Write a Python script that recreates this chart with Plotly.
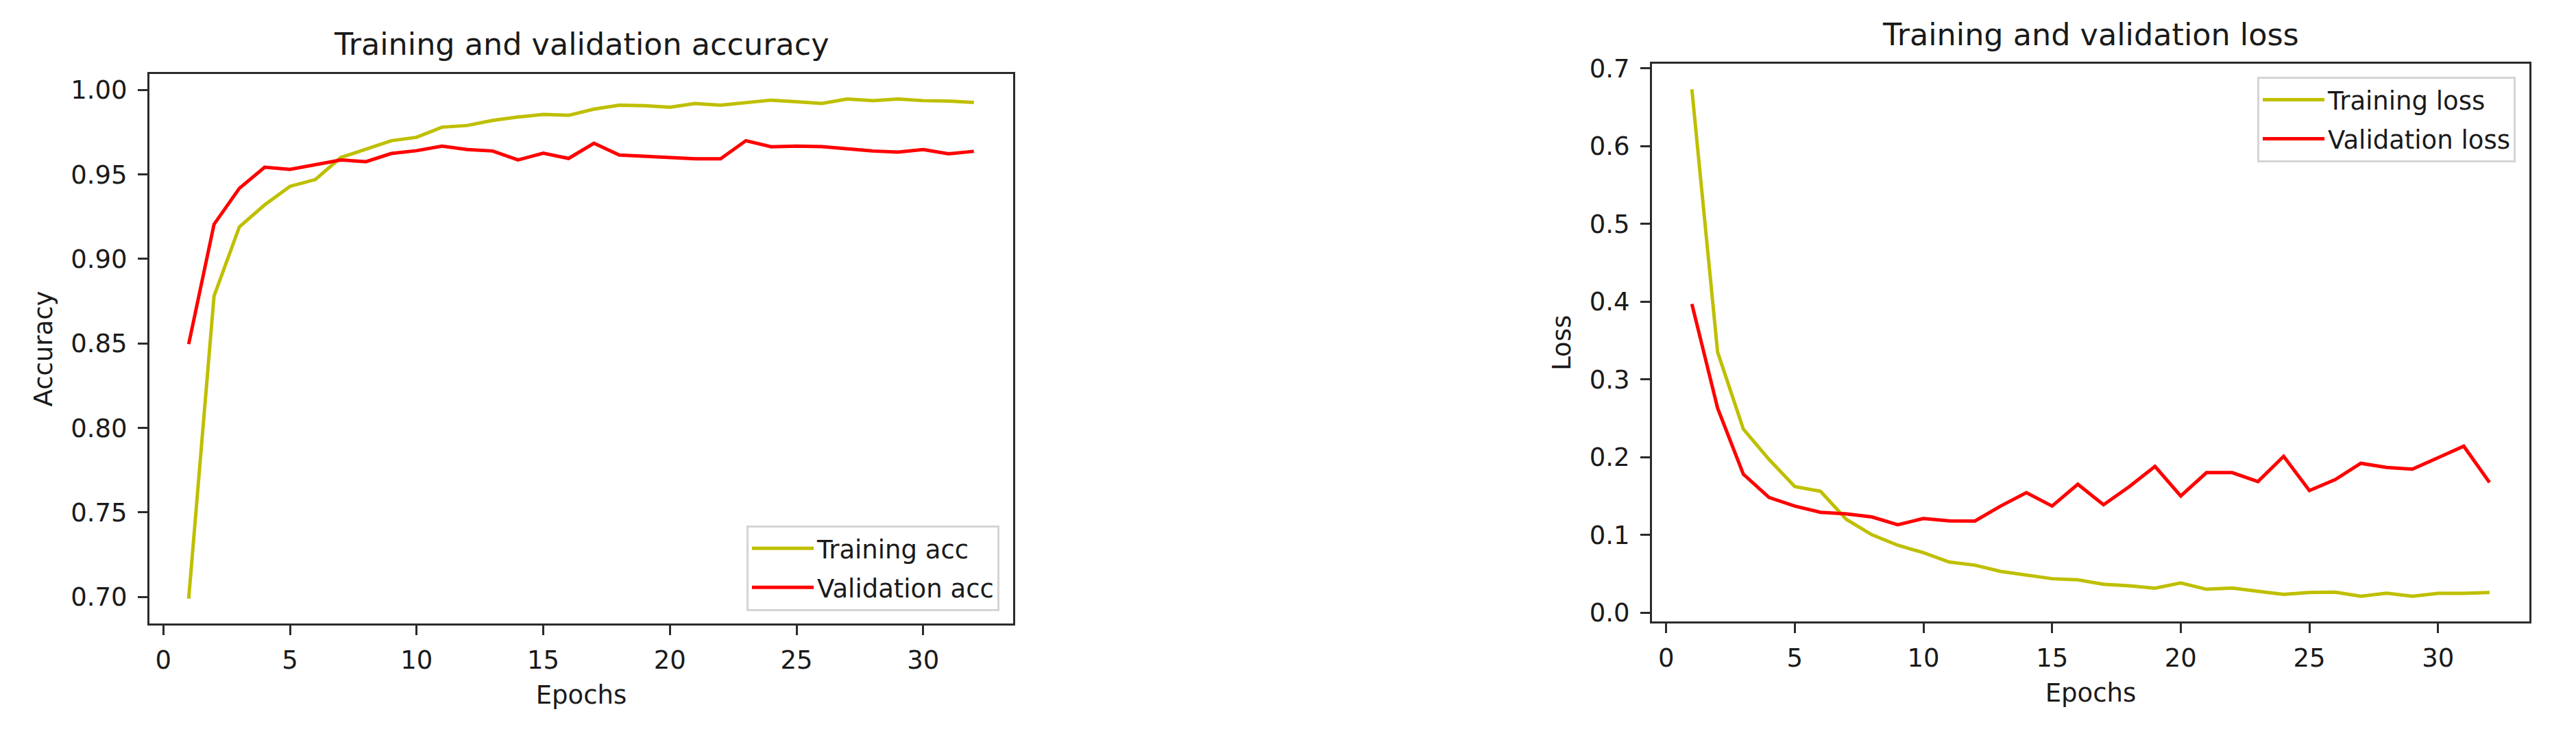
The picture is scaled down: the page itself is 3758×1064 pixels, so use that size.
import plotly.graph_objects as go

# epoch index and history values
epochs = list(range(1, 33))

train_acc = [0.699, 0.878, 0.919, 0.932, 0.943, 0.947, 0.960, 0.965, 0.970, 0.972,
             0.978, 0.979, 0.982, 0.984, 0.9855, 0.985, 0.9887, 0.991, 0.9907, 0.9898,
             0.992, 0.991, 0.9926, 0.994, 0.993, 0.992, 0.9947, 0.9937, 0.9947, 0.9937,
             0.9934, 0.9926]
val_acc = [0.8496, 0.9205, 0.9418, 0.9543, 0.953, 0.9556, 0.9586, 0.9576, 0.9624, 0.9641,
           0.9668, 0.9648, 0.9639, 0.9586, 0.9626, 0.9595, 0.9685, 0.9615, 0.9608, 0.9602,
           0.9593, 0.9593, 0.970, 0.9664, 0.9668, 0.9665, 0.9652, 0.9639, 0.9632, 0.9648,
           0.9622, 0.9637]

train_loss = [0.673, 0.335, 0.236, 0.197, 0.162, 0.156, 0.120, 0.100, 0.0867, 0.077,
              0.065, 0.061, 0.053, 0.0487, 0.0436, 0.0421, 0.0364, 0.0344, 0.0315, 0.0381,
              0.030, 0.0315, 0.0272, 0.0234, 0.0258, 0.0264, 0.021, 0.025, 0.021, 0.0247,
              0.0247, 0.0258]
val_loss = [0.397, 0.263, 0.178, 0.148, 0.137, 0.129, 0.127, 0.123, 0.113, 0.121,
            0.118, 0.1177, 0.137, 0.1542, 0.137, 0.165, 0.1387, 0.162, 0.188, 0.150,
            0.180, 0.180, 0.1686, 0.201, 0.157, 0.171, 0.192, 0.1867, 0.1844, 0.199,
            0.214, 0.1674]

W, H = 3758, 1064
FONT = "DejaVu Sans"
TXT = "#1a1a1a"
SPINE = "#2b2b2b"
TRAIN_COLOR = "#bfbf00"
VAL_COLOR = "#ff0000"
TICK_SIZE = 37
TITLE_SIZE = 44.5


def padded(*series, frac=0.05):
    """matplotlib style autoscale: data limits plus 5% each side"""
    lo = min(min(s) for s in series)
    hi = max(max(s) for s in series)
    span = hi - lo
    return [lo - frac * span, hi + frac * span]


def px_x(p):
    return p / W


def px_y(p):
    return 1 - p / H


# axes boxes in pixels (left, right, top, bottom)
acc_box = (218, 1478, 95, 915)
loss_box = (2410, 3690, 80, 912)

fig = go.Figure()

fig.add_trace(go.Scatter(x=epochs, y=train_acc, name="Training acc", mode="lines",
                         line=dict(color=TRAIN_COLOR, width=5),
                         xaxis="x", yaxis="y", legend="legend", legendgroup="a1"))
fig.add_trace(go.Scatter(x=epochs, y=val_acc, name="Validation acc", mode="lines",
                         line=dict(color=VAL_COLOR, width=5),
                         xaxis="x", yaxis="y", legend="legend", legendgroup="a2"))
fig.add_trace(go.Scatter(x=epochs, y=train_loss, name="Training loss", mode="lines",
                         line=dict(color=TRAIN_COLOR, width=5),
                         xaxis="x2", yaxis="y2", legend="legend2", legendgroup="l1"))
fig.add_trace(go.Scatter(x=epochs, y=val_loss, name="Validation loss", mode="lines",
                         line=dict(color=VAL_COLOR, width=5),
                         xaxis="x2", yaxis="y2", legend="legend2", legendgroup="l2"))

axis_common = dict(
    showline=True, mirror=True, linecolor=SPINE, linewidth=3,
    ticks="outside", ticklen=14, tickwidth=3, tickcolor=SPINE,
    showgrid=False, zeroline=False,
    tickfont=dict(family=FONT, size=TICK_SIZE, color=TXT),
    title_font=dict(family=FONT, size=TICK_SIZE, color=TXT),
)

legend_common = dict(
    bgcolor="white", bordercolor="#d4d4d4", borderwidth=3,
    font=dict(family=FONT, size=TICK_SIZE, color=TXT),
    itemwidth=90, tracegroupgap=6, traceorder="grouped",
)

xr = padded(epochs)

fig.update_layout(
    width=W, height=H,
    margin=dict(l=0, r=0, t=0, b=0),
    paper_bgcolor="white", plot_bgcolor="white",
    font=dict(family=FONT, color=TXT),
    xaxis=dict(domain=[px_x(acc_box[0]), px_x(acc_box[1])], anchor="y",
               range=xr, tick0=0, dtick=5, ticklabelstandoff=4,
               title=dict(text="Epochs", standoff=18), **axis_common),
    yaxis=dict(domain=[px_y(acc_box[3]), px_y(acc_box[2])], anchor="x",
               range=padded(train_acc, val_acc), tick0=0, dtick=0.05, tickformat=".2f",
               ticklabelstandoff=8, title=dict(text="Accuracy", standoff=16),
               **axis_common),
    xaxis2=dict(domain=[px_x(loss_box[0]), px_x(loss_box[1])], anchor="y2",
                range=xr, tick0=0, dtick=5, ticklabelstandoff=4,
                title=dict(text="Epochs", standoff=18), **axis_common),
    yaxis2=dict(domain=[px_y(loss_box[3]), px_y(loss_box[2])], anchor="x2",
                range=padded(train_loss, val_loss), tick0=0, dtick=0.1, tickformat=".1f",
                ticklabelstandoff=8, title=dict(text="Loss", standoff=16),
                **axis_common),
    legend=dict(x=px_x(1458), y=px_y(896), xanchor="right", yanchor="bottom",
                **legend_common),
    legend2=dict(x=px_x(3670), y=px_y(99), xanchor="right", yanchor="top",
                 **legend_common),
    showlegend=True,
)

# subplot titles, centred over each axes box
for box, text in [(acc_box, "Training and validation accuracy"),
                  (loss_box, "Training and validation loss")]:
    fig.add_annotation(text=text, xref="paper", yref="paper",
                       x=px_x((box[0] + box[1]) / 2), y=px_y(box[2] - 16),
                       xanchor="center", yanchor="bottom", showarrow=False,
                       font=dict(family=FONT, size=TITLE_SIZE, color=TXT))

# drop the default page margin so the figure sits at the window origin
fig.write_html("out.html", config={"displayModeBar": False},
               post_script="document.body.style.margin='0';")
